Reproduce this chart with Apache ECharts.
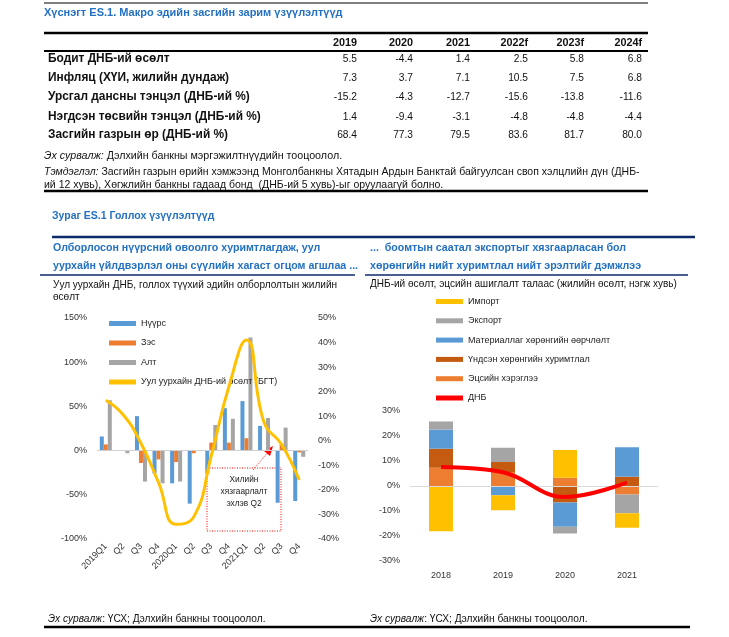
<!DOCTYPE html>
<html>
<head>
<meta charset="utf-8">
<script src="https://cdn.jsdelivr.net/npm/echarts@6/dist/echarts.min.js"></script>
<style>
html,body{margin:0;padding:0;background:#fff;}
#c{width:729px;height:637px;}
</style>
</head>
<body>
<div id="c"></div>
<script>
// ---------- Table data ----------
const tableTitle = 'Хүснэгт ES.1. Макро эдийн засгийн зарим үзүүлэлтүүд';
const tableYears = ['2019', '2020', '2021', '2022f', '2023f', '2024f'];
const rowLabels = ['Бодит ДНБ-ий өсөлт', 'Инфляц (ХҮИ, жилийн дундаж)', 'Урсгал дансны тэнцэл (ДНБ-ий %)', 'Нэгдсэн төсвийн тэнцэл (ДНБ-ий %)', 'Засгийн газрын өр (ДНБ-ий %)'];
const rowGdpGrowth = [5.5, -4.4, 1.4, 2.5, 5.8, 6.8];
const rowInflation = [7.3, 3.7, 7.1, 10.5, 7.5, 6.8];
const rowCurrentAcc = [-15.2, -4.3, -12.7, -15.6, -13.8, -11.6];
const rowFiscal = [1.4, -9.4, -3.1, -4.8, -4.8, -4.4];
const rowDebt = [68.4, 77.3, 79.5, 83.6, 81.7, 80.0];

// ---------- Left chart data ----------
const qCategories = ['2019Q1', '2019Q2', '2019Q3', '2019Q4', '2020Q1', '2020Q2', '2020Q3', '2020Q4', '2021Q1', '2021Q2', '2021Q3', '2021Q4'];
const qTickLabels = ['2019Q1', 'Q2', 'Q3', 'Q4', '2020Q1', 'Q2', 'Q3', 'Q4', '2021Q1', 'Q2', 'Q3', 'Q4'];
const coal = [16, 0, 39, -26, -37, -60, -26, 48, 56, 28, -59, -57];
const copper = [7, 0, -14, -10, -13, -3, 9, 9, 14, 0, 7, -2];
const gold = [57, -3, -35, -37, -35, 0, 29, 36, 128, 37, 26, -7];
const miningGdp = [16.5, 10.5, -1, -17, -34, -31, -6, 22, 41, 7.5, -1.5, -16];

// ---------- Right chart data ----------
const yearCats = ['2018', '2019', '2020', '2021'];
const finalCons = [7.3, 5.6, 3.3, -3.4];
const fixedCap = [7.6, 4.0, -6.6, 3.7];
const inventories = [7.7, -3.7, -9.7, 11.8];
const exportsC = [3.2, 5.7, -2.7, -7.5];
const importsC = [-18.1, -6.0, 11.1, -5.8];
const gdp = [7.6, 5.5, -4.4, 1.4];

const FF = "'Liberation Sans', Arial, sans-serif";
const BLUE = '#2371C2';
const NAVY = '#0D2A6B';
const C_BLUE = '#5B9BD5', C_ORANGE = '#ED7D31', C_GRAY = '#A5A5A5', C_YELLOW = '#FFC000', C_DORANGE = '#C55A11';

const graphics = [];
function txt(x, y, text, opt) {
  opt = opt || {};
  graphics.push({
    type: 'text', x: x, y: y, silent: true,
    style: {
      text: text, fill: opt.fill || '#111',
      font: (opt.italic ? 'italic ' : '') + (opt.bold ? 'bold ' : '') + (opt.size || 10) + 'px ' + FF,
      textAlign: opt.align || 'left', textVerticalAlign: 'middle'
    }
  });
}
function richLine(x, y, it, rest, size) {
  graphics.push({
    type: 'text', x: x, y: y, silent: true,
    style: {
      text: '{i|' + it + '}{r|' + rest + '}',
      textVerticalAlign: 'middle',
      rich: {
        i: { font: 'italic ' + size + 'px ' + FF, fill: '#111' },
        r: { font: size + 'px ' + FF, fill: '#111' }
      }
    }
  });
}
function hline(x1, x2, y, w, color) {
  graphics.push({ type: 'line', silent: true, shape: { x1: x1, y1: y, x2: x2, y2: y }, style: { stroke: color || '#000', lineWidth: w } });
}

// table
hline(44, 648, 3, 1);
txt(44, 13, tableTitle, { bold: true, fill: BLUE, size: 11 });
hline(44, 648, 33, 2.5);
const colRight = [357, 413, 470, 528, 584, 642];
tableYears.forEach((y, i) => txt(colRight[i], 43, y, { bold: true, align: 'right', size: 10.8 }));
hline(44, 648, 51, 2);
const rows = [rowGdpGrowth, rowInflation, rowCurrentAcc, rowFiscal, rowDebt];
const rowY = [59, 78, 97, 117, 135];
rows.forEach((r, ri) => {
  txt(48, rowY[ri], rowLabels[ri], { bold: true, size: 11.9 });
  r.forEach((v, i) => txt(colRight[i], rowY[ri], v.toFixed(1), { align: 'right', size: 10.2 }));
});
richLine(44, 156, 'Эх сурвалж: ', 'Дэлхийн банкны мэргэжилтнүүдийн тооцоолол.', 10.7);
richLine(44, 172, 'Тэмдэглэл: ', 'Засгийн газрын өрийн хэмжээнд Монголбанкны Хятадын Ардын Банктай байгуулсан своп хэлцлийн дүн (ДНБ-', 10.5);
txt(44, 185, 'ий 12 хувь), Хөгжлийн банкны гадаад бонд  (ДНБ-ий 5 хувь)-ыг оруулаагүй болно.', { size: 10.5 });
hline(44, 648, 191, 2.5);

// figure section
txt(52, 216, 'Зураг ES.1 Голлох үзүүлэлтүүд', { bold: true, fill: BLUE, size: 10.5 });
hline(52, 695, 237, 2.5, NAVY);
txt(53, 248, 'Олборлосон нүүрсний овоолго хуримтлагдаж, уул', { bold: true, fill: BLUE, size: 10.65 });
txt(53, 266, 'уурхайн үйлдвэрлэл оны сүүлийн хагаст огцом агшлаа ...', { bold: true, fill: BLUE, size: 10.65 });
hline(40, 355, 275, 1.5, NAVY);
txt(53, 285, 'Уул уурхайн ДНБ, голлох түүхий эдийн олборлолтын жилийн', { size: 10.05 });
txt(53, 297, 'өсөлт', { size: 10.05 });
txt(370, 248, '...  боомтын саатал экспортыг хязгаарласан бол', { bold: true, fill: BLUE, size: 10.65 });
txt(370, 266, 'хөрөнгийн нийт хуримтлал нийт эрэлтийг дэмжлээ', { bold: true, fill: BLUE, size: 10.65 });
hline(365, 688, 275, 1.5, NAVY);
txt(370, 284, 'ДНБ-ий өсөлт, эцсийн ашиглалт талаас (жилийн өсөлт, нэгж хувь)', { size: 10.05 });

// footers
richLine(48, 619, 'Эх сурвалж', ': ҮСХ; Дэлхийн банкны тооцоолол.', 10.2);
richLine(370, 619, 'Эх сурвалж', ': ҮСХ; Дэлхийн банкны тооцоолол.', 10.2);
hline(44, 690, 627, 2.5);

// annotation (left chart)
graphics.push({ type: 'rect', silent: true, shape: { x: 207, y: 468, width: 74, height: 63 }, style: { fill: 'none', stroke: '#FF0000', lineWidth: 1, lineDash: [1, 1.5] } });
txt(244, 480, 'Хилийн', { size: 8.3, align: 'center', fill: '#222' });
txt(244, 492, 'хязгаарлалт', { size: 8.3, align: 'center', fill: '#222' });
txt(244, 504, 'эхлэв Q2', { size: 8.3, align: 'center', fill: '#222' });
graphics.push({ type: 'line', silent: true, shape: { x1: 253, y1: 470, x2: 268, y2: 452 }, style: { stroke: '#FF0000', lineWidth: 1, lineDash: [1, 1.5] } });
graphics.push({ type: 'polygon', silent: true, shape: { points: [[273, 446], [264, 451], [270, 456]] }, style: { fill: '#FF0000' } });

const axisLbl = { color: '#333', fontSize: 9, fontFamily: FF };

const option = {
  animation: false,
  backgroundColor: '#fff',
  textStyle: { fontFamily: FF },
  grid: [
    { left: 97, right: 729 - 308, top: 318, bottom: 637 - 539 },
    { left: 410, right: 729 - 658, top: 411, bottom: 637 - 561 }
  ],
  legend: [
    {
      left: 109, top: 319, orient: 'vertical', icon: 'rect', itemWidth: 27, itemHeight: 5, itemGap: 10.5, padding: 0,
      textStyle: { fontSize: 9, color: '#222', fontFamily: FF },
      data: ['Нүүрс', 'Зэс', 'Алт', 'Уул уурхайн ДНБ-ий өсөлт (БГТ)']
    },
    {
      left: 436, top: 297, orient: 'vertical', icon: 'rect', itemWidth: 27, itemHeight: 5, itemGap: 10.3, padding: 0,
      textStyle: { fontSize: 9, color: '#222', fontFamily: FF },
      data: ['Импорт', 'Экспорт', 'Материаллаг хөрөнгийн өөрчлөлт', 'Үндсэн хөрөнгийн хуримтлал', 'Эцсийн хэрэглээ', 'ДНБ']
    }
  ],
  xAxis: [
    {
      type: 'category', gridIndex: 0, data: qCategories,
      axisLine: { show: false }, axisTick: { show: false },
      axisLabel: Object.assign({}, axisLbl, { rotate: 45, interval: 0, margin: 6, formatter: (v, i) => qTickLabels[i] })
    },
    {
      type: 'category', gridIndex: 1, data: yearCats,
      axisLine: { show: false }, axisTick: { show: false },
      axisLabel: Object.assign({}, axisLbl, { margin: 10 })
    }
  ],
  yAxis: [
    {
      type: 'value', gridIndex: 0, min: -100, max: 150, interval: 50,
      splitLine: { show: false }, axisLine: { show: false }, axisTick: { show: false },
      axisLabel: Object.assign({}, axisLbl, { formatter: '{value}%', margin: 10 })
    },
    {
      type: 'value', gridIndex: 0, min: -40, max: 50, interval: 10, position: 'right',
      splitLine: { show: false }, axisLine: { show: false }, axisTick: { show: false },
      axisLabel: Object.assign({}, axisLbl, { formatter: '{value}%', margin: 10 })
    },
    {
      type: 'value', gridIndex: 1, min: -30, max: 30, interval: 10,
      splitLine: { show: false }, axisLine: { show: false }, axisTick: { show: false },
      axisLabel: Object.assign({}, axisLbl, { formatter: '{value}%', margin: 10 })
    }
  ],
  series: [
    {
      name: 'Нүүрс', type: 'bar', xAxisIndex: 0, yAxisIndex: 0, data: coal, barWidth: 4, barGap: '0%',
      itemStyle: { color: C_BLUE },
      markLine: { silent: true, symbol: 'none', label: { show: false }, lineStyle: { color: '#D0D0D0', width: 1, type: 'solid' }, data: [{ yAxis: 0 }] }
    },
    { name: 'Зэс', type: 'bar', xAxisIndex: 0, yAxisIndex: 0, data: copper, barWidth: 4, barGap: '0%', itemStyle: { color: C_ORANGE } },
    { name: 'Алт', type: 'bar', xAxisIndex: 0, yAxisIndex: 0, data: gold, barWidth: 4, barGap: '0%', itemStyle: { color: C_GRAY } },
    {
      name: 'Уул уурхайн ДНБ-ий өсөлт (БГТ)', type: 'line', xAxisIndex: 0, yAxisIndex: 1, data: miningGdp,
      smooth: 0.5, showSymbol: false, symbol: 'none', z: 5,
      lineStyle: { color: C_YELLOW, width: 3 }, itemStyle: { color: C_YELLOW }
    },
    {
      name: 'Эцсийн хэрэглээ', type: 'bar', stack: 'gdp', xAxisIndex: 1, yAxisIndex: 2, data: finalCons, barWidth: 24,
      itemStyle: { color: C_ORANGE },
      markLine: { silent: true, symbol: 'none', label: { show: false }, lineStyle: { color: '#D9D9D9', width: 1, type: 'solid' }, data: [{ yAxis: 0 }] }
    },
    { name: 'Үндсэн хөрөнгийн хуримтлал', type: 'bar', stack: 'gdp', xAxisIndex: 1, yAxisIndex: 2, data: fixedCap, barWidth: 24, itemStyle: { color: C_DORANGE } },
    { name: 'Материаллаг хөрөнгийн өөрчлөлт', type: 'bar', stack: 'gdp', xAxisIndex: 1, yAxisIndex: 2, data: inventories, barWidth: 24, itemStyle: { color: C_BLUE } },
    { name: 'Экспорт', type: 'bar', stack: 'gdp', xAxisIndex: 1, yAxisIndex: 2, data: exportsC, barWidth: 24, itemStyle: { color: C_GRAY } },
    { name: 'Импорт', type: 'bar', stack: 'gdp', xAxisIndex: 1, yAxisIndex: 2, data: importsC, barWidth: 24, itemStyle: { color: C_YELLOW } },
    {
      name: 'ДНБ', type: 'line', xAxisIndex: 1, yAxisIndex: 2, data: gdp, smooth: 0.4, showSymbol: true, symbol: 'none', z: 5,
      lineStyle: { color: '#FF0000', width: 4 }, itemStyle: { color: '#FF0000' },
      label: { show: true, position: 'top', distance: 9, formatter: '{c}%', fontSize: 10, color: '#222', fontFamily: FF }
    }
  ],
  graphic: graphics
};

const chart = echarts.init(document.getElementById('c'), null, { renderer: 'canvas' });
chart.setOption(option);
</script>
</body>
</html>
